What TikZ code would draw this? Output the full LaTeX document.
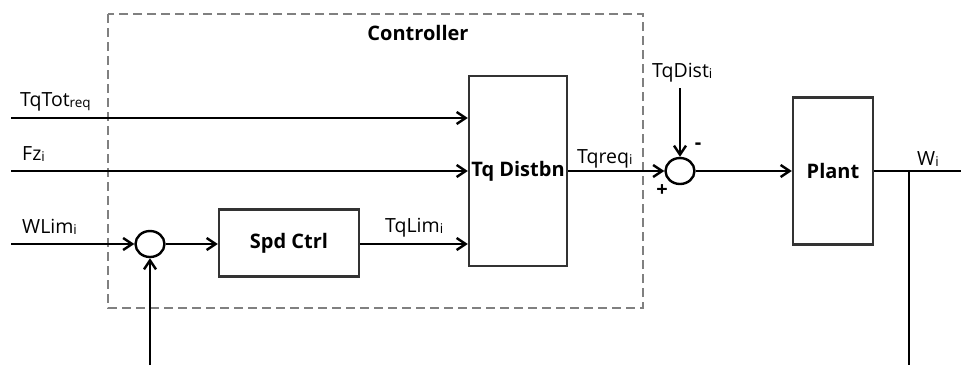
\documentclass[tikz,border=0pt]{standalone}
\usepackage{fontspec}
\setmainfont{Open Sans}
\usetikzlibrary{arrows.meta,shapes.geometric}
\newcommand{\sbs}[1]{\raisebox{-1.5pt}{\fontsize{13.5}{14}\selectfont #1}}
\begin{document}
\begin{tikzpicture}[x=1pt,y=-1pt,
  every node/.style={font=\fontsize{19.5}{22}\selectfont},
  blk/.style={draw=black!80,line width=2.4pt,minimum width=#1,inner sep=0pt},
  sumj/.style={draw=black,line width=2.4pt,ellipse,inner sep=0pt,minimum width=29pt,minimum height=26pt},
  sig/.style={line width=2.4pt,-{Straight Barb[length=9pt,width=12pt,line width=2.4pt]}},
  wire/.style={line width=2.4pt},
  lbl/.style={anchor=base west,inner sep=0pt},
  bold/.style={font=\fontsize{20}{22}\selectfont\bfseries}]
\useasboundingbox (0,0) rectangle (961,365);
\fill[white] (0,0) rectangle (961,365);
% controller frame
\draw[draw=black!50,line width=2.4pt,dash pattern=on 9pt off 5pt] (108,14) rectangle (643,308);
\node[bold,anchor=base] (ctl) at (418,40) {Controller};
% blocks
\node[blk=98pt,minimum height=190pt,bold] (tqd) at (518,171) {Tq Distbn};
\node[blk=140pt,minimum height=67pt,bold] (spd) at (289,243) {Spd Ctrl};
\node[blk=80pt,minimum height=147pt,bold] (plant) at (833,171) {Plant};
\node[sumj] (s1) at (150,244) {};
\node[sumj] (s2) at (680,171) {};
% coordinates
\coordinate (in1) at (11,118);
\coordinate (in2) at (11,171);
\coordinate (in3) at (11,244);
\coordinate (fb) at (150,365);
\coordinate (dist) at (680,88);
\coordinate (out) at (961,171);
\coordinate (br) at (909,171);
\coordinate (brend) at (909,365);
% connectors
\draw[sig] (in1) -- (tqd.west |- in1);
\draw[sig] (in2) -- (tqd.west |- in2);
\draw[sig] (in3) -- (s1.west);
\draw[sig] (s1.east) -- (spd.west |- s1.east);
\draw[sig] (spd.east |- s1.east) -- (tqd.west |- s1.east);
\draw[sig] (fb) -- (s1.south);
\draw[sig] (tqd.east |- s2) -- (s2.west);
\draw[sig] (dist) -- (s2.north);
\draw[sig] (s2.east) -- (plant.west |- s2);
\draw[wire] (plant.east |- out) -- (out);
\draw[wire] (br) -- (brend);
% labels
\node[lbl] (l1) at (20,106) {TqTot\sbs{req}};
\node[lbl] (l2) at (22,160) {Fz\sbs{i}};
\node[lbl] (l3) at (22,233) {WLim\sbs{i}};
\node[lbl] (l4) at (385,232) {TqLim\sbs{i}};
\node[lbl] (l5) at (577,163) {Tqreq\sbs{i}};
\node[lbl] (l6) at (652,77) {TqDist\sbs{i}};
\node[lbl] (l7) at (917,165) {W\sbs{i}};
\node[bold,inner sep=0pt] (mi) at (698,146) {-};
\node[bold,inner sep=0pt] (pl) at (662,191) {+};
\end{tikzpicture}
\end{document}
